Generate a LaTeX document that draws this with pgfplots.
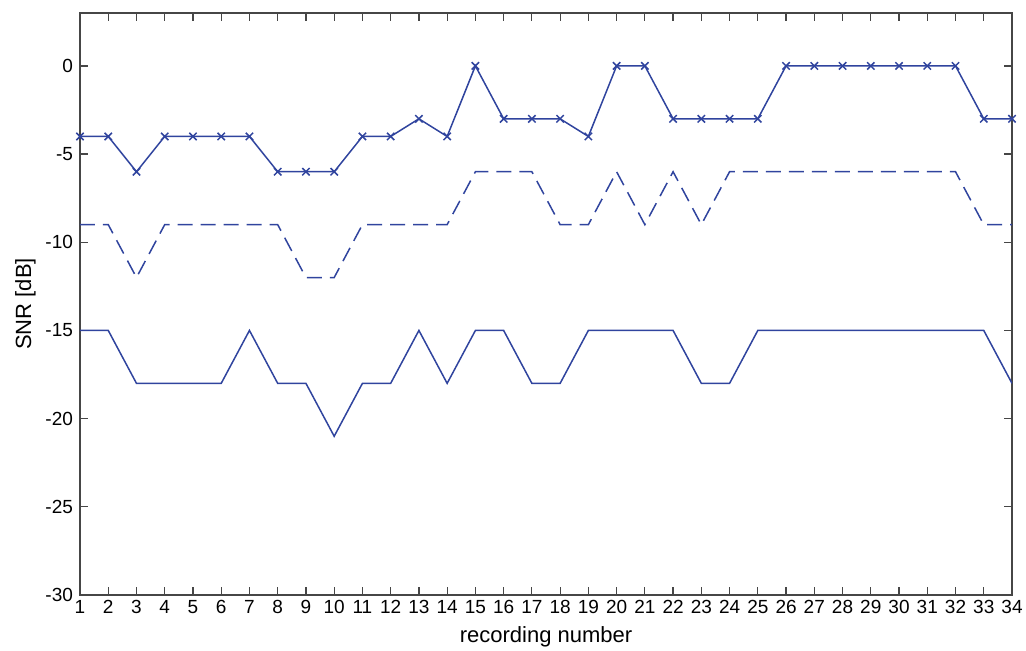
\documentclass[border=0pt]{standalone}
\usepackage{pgfplots}
\pgfplotsset{compat=1.18}
\usepackage{fontspec}
\setmainfont{Liberation Sans}
\definecolor{lc}{RGB}{48,68,158}
\definecolor{ac}{RGB}{70,70,70}
\begin{document}
\begin{tikzpicture}
\useasboundingbox (-40pt,-28pt) rectangle (473pt,297.5pt);
\begin{axis}[
  at={(0,0)}, anchor=south west,
  scale only axis, width=466pt, height=291pt,
  xmin=1, xmax=34, ymin=-30, ymax=3,
  xtick={1,...,34}, ytick={-30,-25,...,0},
  tick align=inside, major tick length=4pt,
  axis line style={ac, line width=0.7pt},
  tick style={ac, line width=0.6pt},
  /pgf/number format/assume math mode=true,
  ticklabel style={font=\fontsize{9.5}{11}\selectfont, black},
  xticklabel style={yshift=1pt},
  xlabel={recording number}, ylabel={SNR [dB]},
  label style={font=\fontsize{11}{13}\selectfont},
  xlabel style={yshift=0.5pt},
  ylabel style={yshift=-2pt},
]
\addplot[lc, line width=0.75pt, mark=x, mark size=2.6pt, mark options={solid}] coordinates {
(1,-4)(2,-4)(3,-6)(4,-4)(5,-4)(6,-4)(7,-4)(8,-6)(9,-6)(10,-6)(11,-4)(12,-4)(13,-3)(14,-4)(15,0)(16,-3)(17,-3)(18,-3)(19,-4)(20,0)(21,0)(22,-3)(23,-3)(24,-3)(25,-3)(26,0)(27,0)(28,0)(29,0)(30,0)(31,0)(32,0)(33,-3)(34,-3)};
\addplot[lc, line width=0.75pt, no marks, dash pattern=on 7.5pt off 4pt] coordinates {
(1,-9)(2,-9)(3,-12)(4,-9)(5,-9)(6,-9)(7,-9)(8,-9)(9,-12)(10,-12)(11,-9)(12,-9)(13,-9)(14,-9)(15,-6)(16,-6)(17,-6)(18,-9)(19,-9)(20,-6)(21,-9)(22,-6)(23,-9)(24,-6)(25,-6)(26,-6)(27,-6)(28,-6)(29,-6)(30,-6)(31,-6)(32,-6)(33,-9)(34,-9)};
\addplot[lc, line width=0.75pt, no marks] coordinates {
(1,-15)(2,-15)(3,-18)(4,-18)(5,-18)(6,-18)(7,-15)(8,-18)(9,-18)(10,-21)(11,-18)(12,-18)(13,-15)(14,-18)(15,-15)(16,-15)(17,-18)(18,-18)(19,-15)(20,-15)(21,-15)(22,-15)(23,-18)(24,-18)(25,-15)(26,-15)(27,-15)(28,-15)(29,-15)(30,-15)(31,-15)(32,-15)(33,-15)(34,-18)};
\end{axis}
\end{tikzpicture}
\end{document}
